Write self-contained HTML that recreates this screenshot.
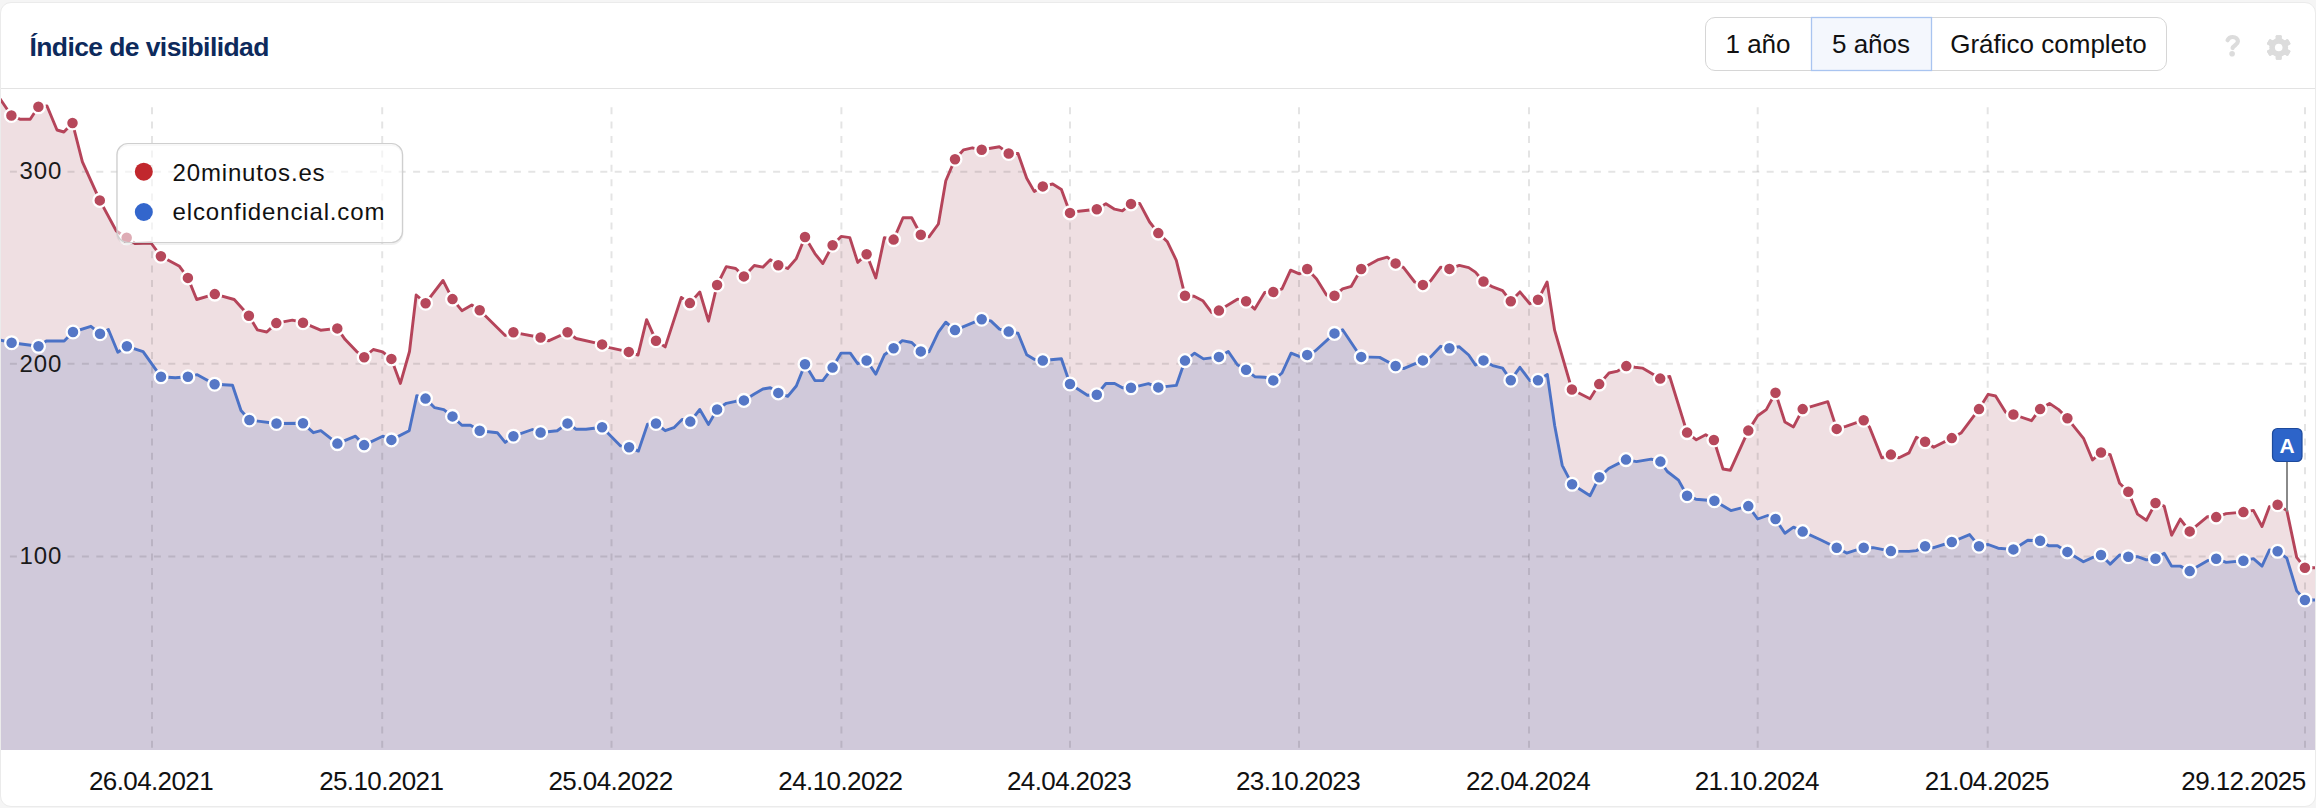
<!DOCTYPE html>
<html><head><meta charset="utf-8">
<style>
html,body{margin:0;padding:0;width:2316px;height:808px;overflow:hidden;background:#f5f5f5;font-family:"Liberation Sans",sans-serif;}
.card{position:absolute;left:0px;top:2px;width:2314px;height:803px;background:#fff;border:1px solid #ebebeb;border-radius:11px;overflow:hidden;}
.title{position:absolute;left:29.5px;top:31.5px;font-size:26.5px;letter-spacing:-0.6px;font-weight:bold;color:#0d2a5c;white-space:nowrap;}
.hline{position:absolute;left:1px;top:88px;width:2314px;height:1px;background:#e3e3e3;}
.btns{position:absolute;left:1705px;top:17px;width:460px;height:52px;border:1px solid #d6d6d6;border-radius:10px;}
.btn{position:absolute;top:1px;height:51px;font-size:26px;color:#111;line-height:51px;text-align:center;}
.lbl{position:absolute;font-size:26px;color:#111;white-space:nowrap;}
svg{position:absolute;left:0;top:0;}
</style></head><body>
<div class="card"></div>
<div class="title">Índice de visibilidad</div>
<div class="hline"></div>
<div class="btns"></div>
<svg width="2316" height="808" viewBox="0 0 2316 808">
  <rect x="1811.5" y="17.5" width="120" height="53" fill="#f4f7fd" stroke="#a9c4f0" stroke-width="1.3"/>
</svg>
<div class="btn" style="left:1705px;width:106px;top:19px">1 año</div>
<div class="btn" style="left:1811px;width:120px;top:19px">5 años</div>
<div class="btn" style="left:1931px;width:235px;top:19px">Gráfico completo</div>
<svg width="2316" height="808" viewBox="0 0 2316 808" style="position:absolute;left:0;top:0">
<defs><clipPath id="pc"><rect x="1" y="89" width="2314" height="661"/></clipPath>
<filter id="sh" x="-10%" y="-10%" width="120%" height="130%"><feDropShadow dx="0" dy="1" stdDeviation="1.5" flood-color="#000" flood-opacity="0.12"/></filter></defs>
<g clip-path="url(#pc)">
<path d="M0.0,98.7 L11.4,115.5 L19.8,119.2 L30.2,119.2 L38.4,106.8 L47.0,106.0 L57.0,130.0 L63.9,132.0 L72.5,123.0 L82.4,161.8 L99.8,200.4 L116.3,231.0 L126.7,237.8 L135.0,243.5 L151.0,243.0 L160.9,256.2 L179.5,266.3 L187.9,277.9 L196.7,299.5 L214.8,294.1 L234.2,299.5 L248.9,315.7 L257.3,329.8 L266.8,332.0 L276.3,323.1 L292.4,320.1 L303.0,322.7 L320.6,330.2 L337.3,328.4 L345.2,339.6 L356.7,351.6 L364.2,357.2 L373.3,349.5 L382.6,351.8 L391.4,358.9 L400.4,383.4 L409.5,351.5 L416.2,295.0 L425.6,303.2 L443.0,280.5 L452.5,299.1 L461.9,310.7 L471.8,305.0 L479.7,310.2 L505.2,335.5 L513.4,332.3 L540.6,337.5 L548.5,340.9 L567.5,332.2 L576.1,338.5 L602.1,344.4 L609.5,347.6 L628.8,351.9 L638.0,355.1 L646.6,319.7 L656.0,340.7 L665.2,346.9 L681.3,297.4 L689.9,303.1 L699.8,292.0 L708.5,321.2 L717.1,285.0 L726.3,266.7 L735.7,268.5 L743.9,276.4 L754.3,265.5 L762.9,267.2 L770.3,259.8 L778.3,265.2 L787.7,268.5 L796.3,258.6 L805.0,237.0 L814.9,253.6 L822.8,263.5 L832.6,245.2 L841.1,236.4 L849.8,237.6 L857.7,262.4 L866.6,254.2 L875.8,278.0 L884.4,237.6 L893.6,239.6 L903.0,217.8 L911.7,217.8 L920.8,234.7 L929.0,236.9 L938.4,224.0 L945.8,180.7 L955.0,159.2 L963.6,149.8 L972.3,147.8 L981.7,149.8 L999.5,146.8 L1008.7,153.5 L1018.0,153.5 L1026.7,178.3 L1034.2,191.4 L1042.8,186.4 L1052.7,184.0 L1061.4,189.4 L1070.0,212.9 L1078.7,211.2 L1096.8,209.2 L1105.9,203.7 L1114.6,209.2 L1122.4,210.8 L1131.0,203.9 L1139.7,203.4 L1149.6,222.0 L1158.3,233.1 L1167.4,241.8 L1176.3,260.3 L1185.0,295.7 L1194.1,296.2 L1202.8,300.7 L1211.5,312.3 L1218.9,310.6 L1237.4,299.2 L1246.1,301.2 L1254.8,309.1 L1264.7,292.5 L1273.3,292.0 L1282.0,288.8 L1290.6,270.2 L1299.3,273.9 L1307.2,269.0 L1316.6,278.9 L1326.5,295.0 L1334.5,295.7 L1342.6,288.8 L1351.3,286.3 L1361.2,269.0 L1378.5,259.6 L1387.2,257.1 L1395.6,263.4 L1403.6,267.6 L1414.7,282.0 L1422.9,284.9 L1430.8,280.7 L1440.7,267.1 L1449.4,268.9 L1459.3,265.4 L1468.7,267.6 L1475.4,272.1 L1483.5,281.5 L1492.7,286.9 L1502.6,290.6 L1510.8,301.3 L1519.9,291.9 L1529.8,303.7 L1538.0,299.8 L1547.1,282.0 L1554.6,330.2 L1571.9,389.5 L1590.0,398.7 L1599.2,384.1 L1609.0,373.0 L1617.7,371.1 L1626.3,366.1 L1635.0,367.3 L1642.4,368.1 L1660.2,378.6 L1669.7,376.5 L1687.1,432.6 L1696.3,439.8 L1705.7,434.8 L1713.9,440.0 L1723.0,469.0 L1730.4,470.2 L1748.3,430.6 L1757.7,415.8 L1766.3,409.6 L1775.5,392.8 L1784.9,422.0 L1793.5,426.9 L1802.7,409.1 L1827.8,401.7 L1836.7,428.9 L1845.9,426.4 L1863.7,420.2 L1869.4,426.9 L1881.8,457.8 L1890.9,454.6 L1899.1,457.8 L1909.0,452.9 L1916.4,437.3 L1925.1,441.8 L1933.7,447.2 L1951.8,438.1 L1961.0,433.1 L1979.0,409.1 L1988.2,394.3 L1995.6,396.0 L2005.5,412.1 L2013.4,414.5 L2031.5,420.7 L2040.1,409.1 L2049.5,403.4 L2058.7,409.6 L2067.4,418.3 L2083.5,438.3 L2092.5,460.0 L2101.0,452.5 L2110.2,454.7 L2119.6,483.2 L2128.3,491.8 L2137.5,514.1 L2146.4,520.3 L2155.5,503.0 L2164.2,506.2 L2171.6,535.2 L2180.3,519.1 L2189.7,531.4 L2207.5,516.6 L2216.2,517.1 L2226.1,513.6 L2243.4,512.1 L2253.4,510.4 L2262.0,526.5 L2269.4,506.7 L2277.6,504.7 L2286.8,510.4 L2296.7,557.4 L2304.9,567.8 L2320.0,567.8 L2320.0,750 L0.0,750 Z" fill="#efdfe2"/>
<path d="M0.0,340.0 L11.6,342.7 L38.5,346.3 L46.3,341.0 L64.2,341.0 L73.0,332.0 L90.9,326.3 L100.0,333.7 L108.4,329.5 L117.8,352.2 L126.9,346.3 L143.1,351.6 L161.0,376.8 L175.3,377.8 L187.9,376.8 L197.3,374.7 L214.6,384.2 L232.5,385.2 L241.0,410.5 L249.4,420.0 L276.5,423.5 L303.0,423.3 L313.4,432.7 L320.8,430.7 L337.4,443.6 L355.5,436.2 L364.1,445.1 L382.7,436.2 L391.4,439.9 L409.2,430.7 L416.8,395.6 L425.5,398.6 L434.7,407.7 L443.8,409.7 L452.5,416.4 L461.9,425.3 L470.5,425.3 L479.7,430.7 L497.3,432.7 L505.2,442.4 L513.4,436.2 L532.4,429.5 L540.6,432.5 L557.2,430.7 L567.5,423.4 L576.1,429.3 L586.0,429.3 L602.1,427.3 L620.6,445.9 L629.1,447.2 L638.4,451.1 L647.5,424.2 L656.0,423.5 L665.2,430.7 L673.9,427.7 L682.1,419.5 L690.3,421.6 L699.8,409.5 L708.5,424.4 L717.1,409.5 L726.3,403.3 L735.7,401.3 L743.9,400.4 L754.3,393.9 L762.9,389.0 L770.3,387.7 L778.3,392.9 L787.7,396.4 L796.3,386.0 L805.0,364.2 L814.9,380.6 L822.8,380.6 L832.6,367.6 L841.1,353.1 L850.3,353.1 L857.7,363.7 L866.6,360.5 L875.8,374.1 L884.4,354.8 L893.6,348.2 L902.3,340.7 L911.7,342.5 L920.8,351.4 L929.0,351.9 L938.4,332.1 L945.8,322.2 L955.0,330.1 L963.6,326.6 L981.7,319.2 L990.8,320.9 L999.5,329.1 L1008.7,331.6 L1018.0,333.3 L1026.7,354.8 L1034.2,359.3 L1042.8,360.5 L1061.4,358.8 L1070.0,384.0 L1087.4,395.2 L1096.8,394.7 L1105.9,383.5 L1114.6,383.5 L1122.4,387.8 L1131.0,387.8 L1148.4,383.6 L1158.3,387.4 L1176.3,385.4 L1185.0,360.6 L1194.6,353.2 L1203.5,358.9 L1218.9,356.9 L1228.3,351.5 L1237.4,364.8 L1246.1,369.8 L1254.8,376.7 L1264.7,377.2 L1273.3,380.4 L1282.0,373.0 L1291.1,353.2 L1299.3,356.4 L1307.2,354.9 L1315.4,350.7 L1334.5,333.4 L1342.6,329.7 L1357.5,352.0 L1361.2,356.9 L1379.7,357.4 L1395.6,366.0 L1403.6,368.6 L1422.9,360.4 L1430.8,356.7 L1440.7,346.3 L1449.4,348.3 L1459.3,346.8 L1468.7,355.0 L1475.4,364.9 L1483.5,360.4 L1492.7,365.6 L1502.6,368.1 L1510.8,380.2 L1519.9,367.3 L1529.8,380.5 L1538.0,380.3 L1547.3,374.5 L1554.7,425.7 L1562.2,465.3 L1572.1,484.3 L1590.1,495.7 L1599.3,477.2 L1608.7,468.5 L1626.0,459.6 L1636.4,461.6 L1651.3,459.1 L1660.4,461.6 L1667.3,471.5 L1678.5,480.1 L1687.1,495.7 L1695.8,499.2 L1714.4,500.7 L1730.9,510.6 L1748.3,506.1 L1757.7,519.0 L1767.6,515.5 L1775.5,519.0 L1784.9,533.3 L1793.5,527.1 L1802.7,531.6 L1819.9,539.5 L1836.7,547.7 L1846.6,553.1 L1863.7,547.7 L1873.1,547.7 L1890.9,551.1 L1909.0,551.4 L1916.4,550.6 L1925.1,546.2 L1933.7,547.7 L1951.8,542.0 L1969.6,534.6 L1979.0,546.2 L1988.2,544.5 L1998.1,548.2 L2013.4,549.4 L2027.8,540.3 L2040.1,540.7 L2048.8,545.7 L2057.5,545.7 L2067.4,551.9 L2083.4,561.8 L2092.9,557.4 L2101.0,555.0 L2110.2,564.1 L2119.6,555.0 L2128.3,556.7 L2137.5,556.7 L2146.4,559.9 L2155.5,558.7 L2164.2,553.2 L2171.6,566.1 L2180.3,566.1 L2189.7,571.1 L2207.5,560.7 L2216.2,558.7 L2226.1,562.4 L2243.4,560.7 L2253.4,558.7 L2262.0,566.1 L2269.4,550.0 L2277.6,551.3 L2286.8,558.2 L2296.7,590.9 L2304.9,600.0 L2320.0,600.0 L2320.0,750 L0.0,750 Z" fill="#d0c9da"/>
<g stroke="rgba(0,0,0,0.105)" stroke-width="2" stroke-dasharray="7 7.4" fill="none"><line x1="152" y1="107.2" x2="152" y2="750"/><line x1="382.2" y1="107.2" x2="382.2" y2="750"/><line x1="611.5" y1="107.2" x2="611.5" y2="750"/><line x1="841.4" y1="107.2" x2="841.4" y2="750"/><line x1="1070" y1="107.2" x2="1070" y2="750"/><line x1="1299" y1="107.2" x2="1299" y2="750"/><line x1="1529" y1="107.2" x2="1529" y2="750"/><line x1="1757.7" y1="107.2" x2="1757.7" y2="750"/><line x1="1987.7" y1="107.2" x2="1987.7" y2="750"/><line x1="2305" y1="107.2" x2="2305" y2="750"/><line x1="9.9" y1="171.7" x2="16.9" y2="171.7"/><line x1="67.5" y1="171.7" x2="2312" y2="171.7" style="stroke-dashoffset:0.00"/><line x1="9.9" y1="363.8" x2="16.9" y2="363.8"/><line x1="67.5" y1="363.8" x2="2312" y2="363.8" style="stroke-dashoffset:0.00"/><line x1="9.9" y1="556.5" x2="16.9" y2="556.5"/><line x1="67.5" y1="556.5" x2="2312" y2="556.5" style="stroke-dashoffset:0.00"/></g>
<path d="M0.0,98.7 L11.4,115.5 L19.8,119.2 L30.2,119.2 L38.4,106.8 L47.0,106.0 L57.0,130.0 L63.9,132.0 L72.5,123.0 L82.4,161.8 L99.8,200.4 L116.3,231.0 L126.7,237.8 L135.0,243.5 L151.0,243.0 L160.9,256.2 L179.5,266.3 L187.9,277.9 L196.7,299.5 L214.8,294.1 L234.2,299.5 L248.9,315.7 L257.3,329.8 L266.8,332.0 L276.3,323.1 L292.4,320.1 L303.0,322.7 L320.6,330.2 L337.3,328.4 L345.2,339.6 L356.7,351.6 L364.2,357.2 L373.3,349.5 L382.6,351.8 L391.4,358.9 L400.4,383.4 L409.5,351.5 L416.2,295.0 L425.6,303.2 L443.0,280.5 L452.5,299.1 L461.9,310.7 L471.8,305.0 L479.7,310.2 L505.2,335.5 L513.4,332.3 L540.6,337.5 L548.5,340.9 L567.5,332.2 L576.1,338.5 L602.1,344.4 L609.5,347.6 L628.8,351.9 L638.0,355.1 L646.6,319.7 L656.0,340.7 L665.2,346.9 L681.3,297.4 L689.9,303.1 L699.8,292.0 L708.5,321.2 L717.1,285.0 L726.3,266.7 L735.7,268.5 L743.9,276.4 L754.3,265.5 L762.9,267.2 L770.3,259.8 L778.3,265.2 L787.7,268.5 L796.3,258.6 L805.0,237.0 L814.9,253.6 L822.8,263.5 L832.6,245.2 L841.1,236.4 L849.8,237.6 L857.7,262.4 L866.6,254.2 L875.8,278.0 L884.4,237.6 L893.6,239.6 L903.0,217.8 L911.7,217.8 L920.8,234.7 L929.0,236.9 L938.4,224.0 L945.8,180.7 L955.0,159.2 L963.6,149.8 L972.3,147.8 L981.7,149.8 L999.5,146.8 L1008.7,153.5 L1018.0,153.5 L1026.7,178.3 L1034.2,191.4 L1042.8,186.4 L1052.7,184.0 L1061.4,189.4 L1070.0,212.9 L1078.7,211.2 L1096.8,209.2 L1105.9,203.7 L1114.6,209.2 L1122.4,210.8 L1131.0,203.9 L1139.7,203.4 L1149.6,222.0 L1158.3,233.1 L1167.4,241.8 L1176.3,260.3 L1185.0,295.7 L1194.1,296.2 L1202.8,300.7 L1211.5,312.3 L1218.9,310.6 L1237.4,299.2 L1246.1,301.2 L1254.8,309.1 L1264.7,292.5 L1273.3,292.0 L1282.0,288.8 L1290.6,270.2 L1299.3,273.9 L1307.2,269.0 L1316.6,278.9 L1326.5,295.0 L1334.5,295.7 L1342.6,288.8 L1351.3,286.3 L1361.2,269.0 L1378.5,259.6 L1387.2,257.1 L1395.6,263.4 L1403.6,267.6 L1414.7,282.0 L1422.9,284.9 L1430.8,280.7 L1440.7,267.1 L1449.4,268.9 L1459.3,265.4 L1468.7,267.6 L1475.4,272.1 L1483.5,281.5 L1492.7,286.9 L1502.6,290.6 L1510.8,301.3 L1519.9,291.9 L1529.8,303.7 L1538.0,299.8 L1547.1,282.0 L1554.6,330.2 L1571.9,389.5 L1590.0,398.7 L1599.2,384.1 L1609.0,373.0 L1617.7,371.1 L1626.3,366.1 L1635.0,367.3 L1642.4,368.1 L1660.2,378.6 L1669.7,376.5 L1687.1,432.6 L1696.3,439.8 L1705.7,434.8 L1713.9,440.0 L1723.0,469.0 L1730.4,470.2 L1748.3,430.6 L1757.7,415.8 L1766.3,409.6 L1775.5,392.8 L1784.9,422.0 L1793.5,426.9 L1802.7,409.1 L1827.8,401.7 L1836.7,428.9 L1845.9,426.4 L1863.7,420.2 L1869.4,426.9 L1881.8,457.8 L1890.9,454.6 L1899.1,457.8 L1909.0,452.9 L1916.4,437.3 L1925.1,441.8 L1933.7,447.2 L1951.8,438.1 L1961.0,433.1 L1979.0,409.1 L1988.2,394.3 L1995.6,396.0 L2005.5,412.1 L2013.4,414.5 L2031.5,420.7 L2040.1,409.1 L2049.5,403.4 L2058.7,409.6 L2067.4,418.3 L2083.5,438.3 L2092.5,460.0 L2101.0,452.5 L2110.2,454.7 L2119.6,483.2 L2128.3,491.8 L2137.5,514.1 L2146.4,520.3 L2155.5,503.0 L2164.2,506.2 L2171.6,535.2 L2180.3,519.1 L2189.7,531.4 L2207.5,516.6 L2216.2,517.1 L2226.1,513.6 L2243.4,512.1 L2253.4,510.4 L2262.0,526.5 L2269.4,506.7 L2277.6,504.7 L2286.8,510.4 L2296.7,557.4 L2304.9,567.8 L2320.0,567.8" fill="none" stroke="#b5445a" stroke-width="2.9" stroke-linejoin="round"/>
<path d="M0.0,340.0 L11.6,342.7 L38.5,346.3 L46.3,341.0 L64.2,341.0 L73.0,332.0 L90.9,326.3 L100.0,333.7 L108.4,329.5 L117.8,352.2 L126.9,346.3 L143.1,351.6 L161.0,376.8 L175.3,377.8 L187.9,376.8 L197.3,374.7 L214.6,384.2 L232.5,385.2 L241.0,410.5 L249.4,420.0 L276.5,423.5 L303.0,423.3 L313.4,432.7 L320.8,430.7 L337.4,443.6 L355.5,436.2 L364.1,445.1 L382.7,436.2 L391.4,439.9 L409.2,430.7 L416.8,395.6 L425.5,398.6 L434.7,407.7 L443.8,409.7 L452.5,416.4 L461.9,425.3 L470.5,425.3 L479.7,430.7 L497.3,432.7 L505.2,442.4 L513.4,436.2 L532.4,429.5 L540.6,432.5 L557.2,430.7 L567.5,423.4 L576.1,429.3 L586.0,429.3 L602.1,427.3 L620.6,445.9 L629.1,447.2 L638.4,451.1 L647.5,424.2 L656.0,423.5 L665.2,430.7 L673.9,427.7 L682.1,419.5 L690.3,421.6 L699.8,409.5 L708.5,424.4 L717.1,409.5 L726.3,403.3 L735.7,401.3 L743.9,400.4 L754.3,393.9 L762.9,389.0 L770.3,387.7 L778.3,392.9 L787.7,396.4 L796.3,386.0 L805.0,364.2 L814.9,380.6 L822.8,380.6 L832.6,367.6 L841.1,353.1 L850.3,353.1 L857.7,363.7 L866.6,360.5 L875.8,374.1 L884.4,354.8 L893.6,348.2 L902.3,340.7 L911.7,342.5 L920.8,351.4 L929.0,351.9 L938.4,332.1 L945.8,322.2 L955.0,330.1 L963.6,326.6 L981.7,319.2 L990.8,320.9 L999.5,329.1 L1008.7,331.6 L1018.0,333.3 L1026.7,354.8 L1034.2,359.3 L1042.8,360.5 L1061.4,358.8 L1070.0,384.0 L1087.4,395.2 L1096.8,394.7 L1105.9,383.5 L1114.6,383.5 L1122.4,387.8 L1131.0,387.8 L1148.4,383.6 L1158.3,387.4 L1176.3,385.4 L1185.0,360.6 L1194.6,353.2 L1203.5,358.9 L1218.9,356.9 L1228.3,351.5 L1237.4,364.8 L1246.1,369.8 L1254.8,376.7 L1264.7,377.2 L1273.3,380.4 L1282.0,373.0 L1291.1,353.2 L1299.3,356.4 L1307.2,354.9 L1315.4,350.7 L1334.5,333.4 L1342.6,329.7 L1357.5,352.0 L1361.2,356.9 L1379.7,357.4 L1395.6,366.0 L1403.6,368.6 L1422.9,360.4 L1430.8,356.7 L1440.7,346.3 L1449.4,348.3 L1459.3,346.8 L1468.7,355.0 L1475.4,364.9 L1483.5,360.4 L1492.7,365.6 L1502.6,368.1 L1510.8,380.2 L1519.9,367.3 L1529.8,380.5 L1538.0,380.3 L1547.3,374.5 L1554.7,425.7 L1562.2,465.3 L1572.1,484.3 L1590.1,495.7 L1599.3,477.2 L1608.7,468.5 L1626.0,459.6 L1636.4,461.6 L1651.3,459.1 L1660.4,461.6 L1667.3,471.5 L1678.5,480.1 L1687.1,495.7 L1695.8,499.2 L1714.4,500.7 L1730.9,510.6 L1748.3,506.1 L1757.7,519.0 L1767.6,515.5 L1775.5,519.0 L1784.9,533.3 L1793.5,527.1 L1802.7,531.6 L1819.9,539.5 L1836.7,547.7 L1846.6,553.1 L1863.7,547.7 L1873.1,547.7 L1890.9,551.1 L1909.0,551.4 L1916.4,550.6 L1925.1,546.2 L1933.7,547.7 L1951.8,542.0 L1969.6,534.6 L1979.0,546.2 L1988.2,544.5 L1998.1,548.2 L2013.4,549.4 L2027.8,540.3 L2040.1,540.7 L2048.8,545.7 L2057.5,545.7 L2067.4,551.9 L2083.4,561.8 L2092.9,557.4 L2101.0,555.0 L2110.2,564.1 L2119.6,555.0 L2128.3,556.7 L2137.5,556.7 L2146.4,559.9 L2155.5,558.7 L2164.2,553.2 L2171.6,566.1 L2180.3,566.1 L2189.7,571.1 L2207.5,560.7 L2216.2,558.7 L2226.1,562.4 L2243.4,560.7 L2253.4,558.7 L2262.0,566.1 L2269.4,550.0 L2277.6,551.3 L2286.8,558.2 L2296.7,590.9 L2304.9,600.0 L2320.0,600.0" fill="none" stroke="#4b72c6" stroke-width="2.9" stroke-linejoin="round"/>
<g fill="#b6485b" stroke="#fff" stroke-width="2.3"><circle cx="11.4" cy="115.5" r="6.4"/><circle cx="38.4" cy="106.8" r="6.4"/><circle cx="72.5" cy="123.0" r="6.4"/><circle cx="99.8" cy="200.4" r="6.4"/><circle cx="126.7" cy="237.8" r="6.4"/><circle cx="160.9" cy="256.2" r="6.4"/><circle cx="187.9" cy="277.9" r="6.4"/><circle cx="214.8" cy="294.1" r="6.4"/><circle cx="248.9" cy="315.7" r="6.4"/><circle cx="276.3" cy="323.1" r="6.4"/><circle cx="303.0" cy="322.7" r="6.4"/><circle cx="337.3" cy="328.4" r="6.4"/><circle cx="364.2" cy="357.2" r="6.4"/><circle cx="391.4" cy="358.9" r="6.4"/><circle cx="425.6" cy="303.2" r="6.4"/><circle cx="452.5" cy="299.1" r="6.4"/><circle cx="479.7" cy="310.2" r="6.4"/><circle cx="513.4" cy="332.3" r="6.4"/><circle cx="540.6" cy="337.5" r="6.4"/><circle cx="567.5" cy="332.2" r="6.4"/><circle cx="602.1" cy="344.4" r="6.4"/><circle cx="628.8" cy="351.9" r="6.4"/><circle cx="656.0" cy="340.7" r="6.4"/><circle cx="689.9" cy="303.1" r="6.4"/><circle cx="717.1" cy="285.0" r="6.4"/><circle cx="743.9" cy="276.4" r="6.4"/><circle cx="778.3" cy="265.2" r="6.4"/><circle cx="805.0" cy="237.0" r="6.4"/><circle cx="832.6" cy="245.2" r="6.4"/><circle cx="866.6" cy="254.2" r="6.4"/><circle cx="893.6" cy="239.6" r="6.4"/><circle cx="920.8" cy="234.7" r="6.4"/><circle cx="955.0" cy="159.2" r="6.4"/><circle cx="981.7" cy="149.8" r="6.4"/><circle cx="1008.7" cy="153.5" r="6.4"/><circle cx="1042.8" cy="186.4" r="6.4"/><circle cx="1070.0" cy="212.9" r="6.4"/><circle cx="1096.8" cy="209.2" r="6.4"/><circle cx="1131.0" cy="203.9" r="6.4"/><circle cx="1158.3" cy="233.1" r="6.4"/><circle cx="1185.0" cy="295.7" r="6.4"/><circle cx="1218.9" cy="310.6" r="6.4"/><circle cx="1246.1" cy="301.2" r="6.4"/><circle cx="1273.3" cy="292.0" r="6.4"/><circle cx="1307.2" cy="269.0" r="6.4"/><circle cx="1334.5" cy="295.7" r="6.4"/><circle cx="1361.2" cy="269.0" r="6.4"/><circle cx="1395.6" cy="263.4" r="6.4"/><circle cx="1422.9" cy="284.9" r="6.4"/><circle cx="1449.4" cy="268.9" r="6.4"/><circle cx="1483.5" cy="281.5" r="6.4"/><circle cx="1510.8" cy="301.3" r="6.4"/><circle cx="1538.0" cy="299.8" r="6.4"/><circle cx="1571.9" cy="389.5" r="6.4"/><circle cx="1599.2" cy="384.1" r="6.4"/><circle cx="1626.3" cy="366.1" r="6.4"/><circle cx="1660.2" cy="378.6" r="6.4"/><circle cx="1687.1" cy="432.6" r="6.4"/><circle cx="1713.9" cy="440.0" r="6.4"/><circle cx="1748.3" cy="430.6" r="6.4"/><circle cx="1775.5" cy="392.8" r="6.4"/><circle cx="1802.7" cy="409.1" r="6.4"/><circle cx="1836.7" cy="428.9" r="6.4"/><circle cx="1863.7" cy="420.2" r="6.4"/><circle cx="1890.9" cy="454.6" r="6.4"/><circle cx="1925.1" cy="441.8" r="6.4"/><circle cx="1951.8" cy="438.1" r="6.4"/><circle cx="1979.0" cy="409.1" r="6.4"/><circle cx="2013.4" cy="414.5" r="6.4"/><circle cx="2040.1" cy="409.1" r="6.4"/><circle cx="2067.4" cy="418.3" r="6.4"/><circle cx="2101.0" cy="452.5" r="6.4"/><circle cx="2128.3" cy="491.8" r="6.4"/><circle cx="2155.5" cy="503.0" r="6.4"/><circle cx="2189.7" cy="531.4" r="6.4"/><circle cx="2216.2" cy="517.1" r="6.4"/><circle cx="2243.4" cy="512.1" r="6.4"/><circle cx="2277.6" cy="504.7" r="6.4"/><circle cx="2304.9" cy="567.8" r="6.4"/></g>
<g fill="#5577c6" stroke="#fff" stroke-width="2.3"><circle cx="11.6" cy="342.7" r="6.4"/><circle cx="38.5" cy="346.3" r="6.4"/><circle cx="73.0" cy="332.0" r="6.4"/><circle cx="100.0" cy="333.7" r="6.4"/><circle cx="126.9" cy="346.3" r="6.4"/><circle cx="161.0" cy="376.8" r="6.4"/><circle cx="187.9" cy="376.8" r="6.4"/><circle cx="214.6" cy="384.2" r="6.4"/><circle cx="249.4" cy="420.0" r="6.4"/><circle cx="276.5" cy="423.5" r="6.4"/><circle cx="303.0" cy="423.3" r="6.4"/><circle cx="337.4" cy="443.6" r="6.4"/><circle cx="364.1" cy="445.1" r="6.4"/><circle cx="391.4" cy="439.9" r="6.4"/><circle cx="425.5" cy="398.6" r="6.4"/><circle cx="452.5" cy="416.4" r="6.4"/><circle cx="479.7" cy="430.7" r="6.4"/><circle cx="513.4" cy="436.2" r="6.4"/><circle cx="540.6" cy="432.5" r="6.4"/><circle cx="567.5" cy="423.4" r="6.4"/><circle cx="602.1" cy="427.3" r="6.4"/><circle cx="629.1" cy="447.2" r="6.4"/><circle cx="656.0" cy="423.5" r="6.4"/><circle cx="690.3" cy="421.6" r="6.4"/><circle cx="717.1" cy="409.5" r="6.4"/><circle cx="743.9" cy="400.4" r="6.4"/><circle cx="778.3" cy="392.9" r="6.4"/><circle cx="805.0" cy="364.2" r="6.4"/><circle cx="832.6" cy="367.6" r="6.4"/><circle cx="866.6" cy="360.5" r="6.4"/><circle cx="893.6" cy="348.2" r="6.4"/><circle cx="920.8" cy="351.4" r="6.4"/><circle cx="955.0" cy="330.1" r="6.4"/><circle cx="981.7" cy="319.2" r="6.4"/><circle cx="1008.7" cy="331.6" r="6.4"/><circle cx="1042.8" cy="360.5" r="6.4"/><circle cx="1070.0" cy="384.0" r="6.4"/><circle cx="1096.8" cy="394.7" r="6.4"/><circle cx="1131.0" cy="387.8" r="6.4"/><circle cx="1158.3" cy="387.4" r="6.4"/><circle cx="1185.0" cy="360.6" r="6.4"/><circle cx="1218.9" cy="356.9" r="6.4"/><circle cx="1246.1" cy="369.8" r="6.4"/><circle cx="1273.3" cy="380.4" r="6.4"/><circle cx="1307.2" cy="354.9" r="6.4"/><circle cx="1334.5" cy="333.4" r="6.4"/><circle cx="1361.2" cy="356.9" r="6.4"/><circle cx="1395.6" cy="366.0" r="6.4"/><circle cx="1422.9" cy="360.4" r="6.4"/><circle cx="1449.4" cy="348.3" r="6.4"/><circle cx="1483.5" cy="360.4" r="6.4"/><circle cx="1510.8" cy="380.2" r="6.4"/><circle cx="1538.0" cy="380.3" r="6.4"/><circle cx="1572.1" cy="484.3" r="6.4"/><circle cx="1599.3" cy="477.2" r="6.4"/><circle cx="1626.0" cy="459.6" r="6.4"/><circle cx="1660.4" cy="461.6" r="6.4"/><circle cx="1687.1" cy="495.7" r="6.4"/><circle cx="1714.4" cy="500.7" r="6.4"/><circle cx="1748.3" cy="506.1" r="6.4"/><circle cx="1775.5" cy="519.0" r="6.4"/><circle cx="1802.7" cy="531.6" r="6.4"/><circle cx="1836.7" cy="547.7" r="6.4"/><circle cx="1863.7" cy="547.7" r="6.4"/><circle cx="1890.9" cy="551.1" r="6.4"/><circle cx="1925.1" cy="546.2" r="6.4"/><circle cx="1951.8" cy="542.0" r="6.4"/><circle cx="1979.0" cy="546.2" r="6.4"/><circle cx="2013.4" cy="549.4" r="6.4"/><circle cx="2040.1" cy="540.7" r="6.4"/><circle cx="2067.4" cy="551.9" r="6.4"/><circle cx="2101.0" cy="555.0" r="6.4"/><circle cx="2128.3" cy="556.7" r="6.4"/><circle cx="2155.5" cy="558.7" r="6.4"/><circle cx="2189.7" cy="571.1" r="6.4"/><circle cx="2216.2" cy="558.7" r="6.4"/><circle cx="2243.4" cy="560.7" r="6.4"/><circle cx="2277.6" cy="551.3" r="6.4"/><circle cx="2304.9" cy="600.0" r="6.4"/></g>
</g>
<g font-family="Liberation Sans" font-size="24" fill="#1a1a1a" letter-spacing="0.8">
<text x="19.6" y="178.8">300</text><text x="19.6" y="371.6">200</text><text x="19.6" y="564.4">100</text>
</g>
<g font-family="Liberation Sans" font-size="26" fill="#111" letter-spacing="-0.6"><text x="151" y="790" text-anchor="middle">26.04.2021</text><text x="381.2" y="790" text-anchor="middle">25.10.2021</text><text x="610.5" y="790" text-anchor="middle">25.04.2022</text><text x="840.4" y="790" text-anchor="middle">24.10.2022</text><text x="1069" y="790" text-anchor="middle">24.04.2023</text><text x="1298" y="790" text-anchor="middle">23.10.2023</text><text x="1528" y="790" text-anchor="middle">22.04.2024</text><text x="1756.7" y="790" text-anchor="middle">21.10.2024</text><text x="1986.7" y="790" text-anchor="middle">21.04.2025</text><text x="2305.5" y="790" text-anchor="end">29.12.2025</text></g>
<rect x="117" y="145" width="285.5" height="99" rx="11" fill="none" stroke="rgba(0,0,0,0.06)" stroke-width="2"/><rect x="117" y="143.5" width="285.5" height="99" rx="11" fill="rgba(255,255,255,0.55)" stroke="#cfcfcf" stroke-width="1.2"/>
<circle cx="143.8" cy="171.7" r="9" fill="#c1272d"/>
<circle cx="143.8" cy="212" r="9" fill="#3366cc"/>
<g font-family="Liberation Sans" font-size="24" fill="#111" letter-spacing="0.85"><text x="172.5" y="180.8">20minutos.es</text><text x="172.5" y="220.3">elconfidencial.com</text></g>
<g fill="#dcdcdc"><circle cx="2278.7" cy="47.5" r="9.4"/><rect x="2275.75" y="35.3" width="5.9" height="24.4" rx="1" transform="rotate(0 2278.7 47.5)"/><rect x="2275.75" y="35.3" width="5.9" height="24.4" rx="1" transform="rotate(-60 2278.7 47.5)"/><rect x="2275.75" y="35.3" width="5.9" height="24.4" rx="1" transform="rotate(60 2278.7 47.5)"/><rect x="2275.75" y="35.3" width="5.9" height="24.4" rx="1" transform="rotate(120 2278.7 47.5)"/><rect x="2275.75" y="35.3" width="5.9" height="24.4" rx="1" transform="rotate(180 2278.7 47.5)"/><rect x="2275.75" y="35.3" width="5.9" height="24.4" rx="1" transform="rotate(240 2278.7 47.5)"/><circle cx="2278.7" cy="47.5" r="3.8" fill="#fff"/></g>
<path d="M2227.6,40.2 C2228.6,38 2230.6,37 2232.6,37 C2235.8,37 2237.9,39 2237.9,41.6 C2237.9,44.6 2233.2,45.4 2232.6,48" fill="none" stroke="#dcdcdc" stroke-width="4.2" stroke-linejoin="round" stroke-linecap="round"/>
<circle cx="2232.1" cy="53.7" r="2.8" fill="#dcdcdc"/>
<line x1="2287" y1="462" x2="2287" y2="511.6" stroke="#8a8a8a" stroke-width="2"/>
<rect x="2272.5" y="428.5" width="29.5" height="33" rx="5" fill="#2d64c9" stroke="#1d4a9c" stroke-width="1.2"/>
<text x="2287.2" y="453" text-anchor="middle" font-family="Liberation Sans" font-weight="bold" font-size="21" fill="#fff">A</text>
</svg>
</body></html>
